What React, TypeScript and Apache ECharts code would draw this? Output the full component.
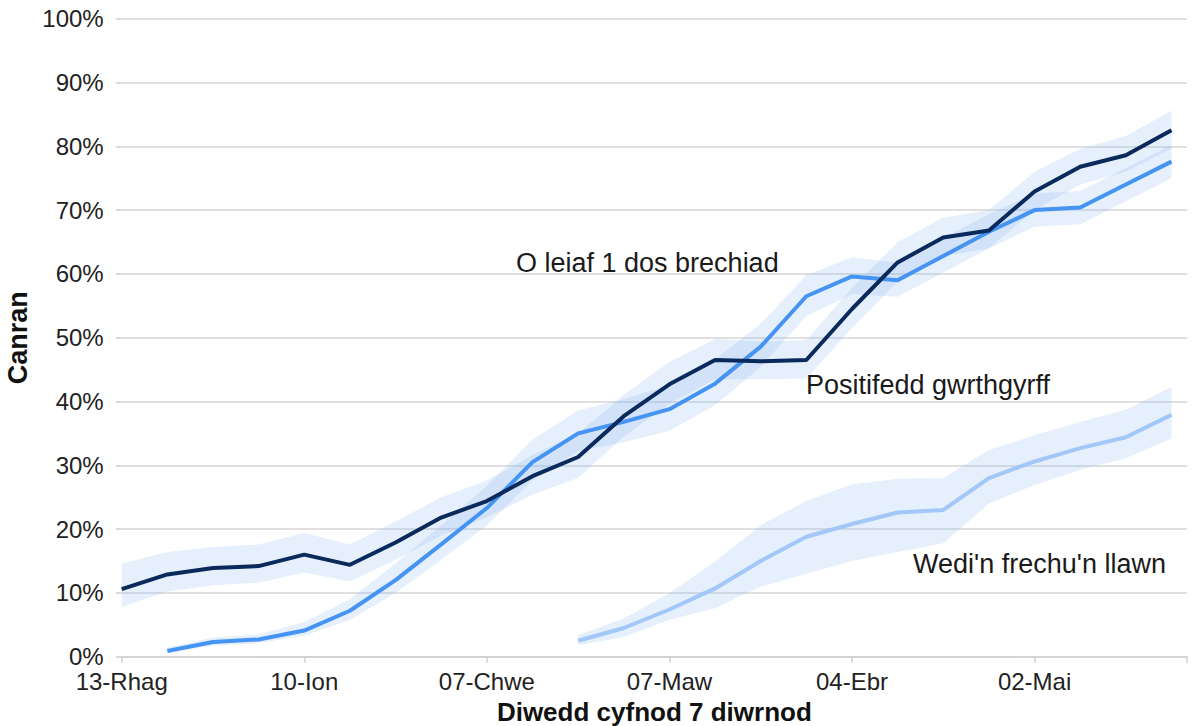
import { useEffect, useRef } from 'react';
import * as echarts from 'echarts';

const weeks = [
  '13-Rhag', '20-Rhag', '27-Rhag', '03-Ion', '10-Ion', '17-Ion', '24-Ion', '31-Ion',
  '07-Chwe', '14-Chwe', '21-Chwe', '28-Chwe', '07-Maw', '14-Maw', '21-Maw', '28-Maw',
  '04-Ebr', '11-Ebr', '18-Ebr', '25-Ebr', '02-Mai', '09-Mai', '16-Mai', '23-Mai',
];

const yTicks = [0, 10, 20, 30, 40, 50, 60, 70, 80, 90, 100];

const antibody = [10.6, 12.9, 13.9, 14.2, 16.0, 14.4, 17.9, 21.8, 24.4, 28.3, 31.3, 37.7, 42.7, 46.5, 46.3, 46.5, 54.5, 61.8, 65.7, 66.8, 72.9, 76.8, 78.6, 82.5];
const antibodyLow = [7.8, 10.2, 11.2, 11.6, 13.2, 11.8, 15.2, 19.0, 21.8, 25.4, 28.0, 34.5, 39.6, 43.5, 43.5, 43.6, 51.5, 58.8, 62.8, 64.0, 70.0, 74.0, 76.0, 79.6];
const antibodyHigh = [14.6, 16.4, 17.2, 17.6, 19.4, 17.6, 21.2, 25.0, 27.6, 31.6, 35.0, 41.0, 46.2, 49.8, 49.4, 49.6, 57.8, 65.0, 68.8, 70.0, 76.0, 79.6, 81.6, 85.6];

const oneDose = [null, 0.9, 2.3, 2.7, 4.1, 7.2, 12.0, 17.6, 23.3, 30.5, 35.0, 36.8, 38.8, 42.8, 48.6, 56.5, 59.6, 59.0, 62.8, 66.6, 70.0, 70.4, 74.0, 77.6];
const oneDoseLow = [null, 0.6, 1.7, 2.1, 3.3, 5.8, 10.0, 15.2, 20.6, 27.6, 32.2, 33.6, 35.4, 39.4, 45.4, 53.4, 56.8, 56.4, 60.2, 64.0, 67.4, 67.8, 71.4, 75.0];
const oneDoseHigh = [null, 1.4, 3.0, 3.5, 5.4, 9.0, 14.6, 20.6, 26.8, 34.0, 38.6, 40.4, 42.6, 46.6, 52.2, 59.8, 62.6, 61.8, 65.6, 69.4, 72.6, 73.0, 76.6, 80.2];

const fullyVacc = [null, null, null, null, null, null, null, null, null, null, 2.5, 4.5, 7.4, 10.7, 15.0, 18.8, 20.8, 22.6, 23.0, 28.0, 30.6, 32.7, 34.4, 37.9];
const fullyLow = [null, null, null, null, null, null, null, null, null, null, 1.8, 3.1, 5.8, 7.6, 11.0, 13.0, 15.0, 16.4, 17.8, 24.0, 26.9, 29.3, 31.1, 34.2];
const fullyHigh = [null, null, null, null, null, null, null, null, null, null, 3.4, 6.0, 10.0, 14.9, 20.6, 24.4, 27.0, 27.9, 28.0, 32.4, 34.7, 36.8, 38.7, 42.3];

const labels = [
  { text: 'O leiaf 1 dos brechiad', x: 516, y: 263 },
  { text: 'Positifedd gwrthgyrff', x: 806, y: 385 },
  { text: "Wedi'n frechu'n llawn", x: 913, y: 564 },
];

const FONT = '"Liberation Sans", Arial, Helvetica, sans-serif';
const BAND = 'rgba(140,180,240,0.22)';

function pairs(arr: (number | null)[]) {
  const out: number[][] = [];
  arr.forEach((v, i) => {
    if (v != null) out.push([i, v]);
  });
  return out;
}

function band(lo: (number | null)[], hi: (number | null)[]) {
  return {
    type: 'custom',
    silent: true,
    z: 1,
    data: [[0, 0]],
    renderItem: (_params: any, api: any) => {
      const pts: number[][] = [];
      for (let i = 0; i < lo.length; i++) {
        if (lo[i] != null) pts.push(api.coord([i, lo[i]]));
      }
      for (let i = hi.length - 1; i >= 0; i--) {
        if (hi[i] != null) pts.push(api.coord([i, hi[i]]));
      }
      return { type: 'polygon', shape: { points: pts }, style: { fill: BAND } };
    },
  };
}

function line(arr: (number | null)[], color: string, width: number, z: number) {
  return {
    type: 'line',
    data: pairs(arr),
    showSymbol: false,
    symbol: 'none',
    z,
    lineStyle: { color, width },
    itemStyle: { color },
  };
}

export default function App() {
  const ref = useRef<HTMLDivElement>(null);
  useEffect(() => {
    const chart = echarts.init(ref.current!, null, { renderer: 'svg' });
    chart.setOption({
      animation: false,
      backgroundColor: '#ffffff',
      grid: {
        left: 121.7,
        right: 8,
        top: 18.7,
        bottom: 69.3,
        containLabel: false,
        outerBoundsMode: 'none',
      },
      xAxis: {
        type: 'value',
        min: 0,
        max: 23.34,
        interval: 4,
        name: 'Diwedd cyfnod 7 diwrnod',
        nameLocation: 'middle',
        nameGap: 41,
        nameTextStyle: {
          fontSize: 26,
          lineHeight: 26,
          fontWeight: 'bold',
          color: '#111',
          fontFamily: FONT,
        },
        axisLine: { show: true, lineStyle: { color: '#cfcfcf', width: 1.5 } },
        axisTick: { show: true, length: 6, lineStyle: { color: '#cfcfcf', width: 1.5 } },
        splitLine: { show: false },
        axisLabel: {
          fontSize: 24,
          color: '#222',
          fontFamily: FONT,
          margin: 13,
          hideOverlap: false,
          formatter: (v: number) => (Number.isInteger(v) && weeks[v] ? weeks[v] : ''),
        },
      },
      yAxis: {
        type: 'value',
        min: yTicks[0],
        max: yTicks[yTicks.length - 1],
        interval: 10,
        name: 'Canran',
        nameLocation: 'middle',
        nameGap: 84,
        nameRotate: 90,
        nameTextStyle: { fontSize: 27, fontWeight: 'bold', color: '#111', fontFamily: FONT },
        axisLine: { show: false },
        axisTick: { show: true, length: 6, lineStyle: { color: '#cfcfcf', width: 1.5 } },
        splitLine: { show: true, lineStyle: { color: '#d6d6d6', width: 1.5 } },
        axisLabel: {
          fontSize: 24,
          color: '#222',
          fontFamily: FONT,
          margin: 18,
          formatter: '{value}%',
        },
      },
      series: [
        band(antibodyLow, antibodyHigh),
        band(oneDoseLow, oneDoseHigh),
        band(fullyLow, fullyHigh),
        line(fullyVacc, '#a2c7f8', 4, 3),
        line(oneDose, '#4594f3', 4, 4),
        line(antibody, '#0b2a5c', 4, 5),
      ],
      graphic: labels.map((l) => ({
        type: 'text',
        x: l.x,
        y: l.y,
        z: 10,
        style: {
          text: l.text,
          fontSize: 27,
          fontFamily: FONT,
          fill: '#1a1a1a',
          verticalAlign: 'middle',
          align: 'left',
        },
      })),
    });
    return () => chart.dispose();
  }, []);
  return (
    <div
      ref={ref}
      style={{ position: 'fixed', left: 0, top: 0, width: 1195, height: 726 }}
    />
  );
}
